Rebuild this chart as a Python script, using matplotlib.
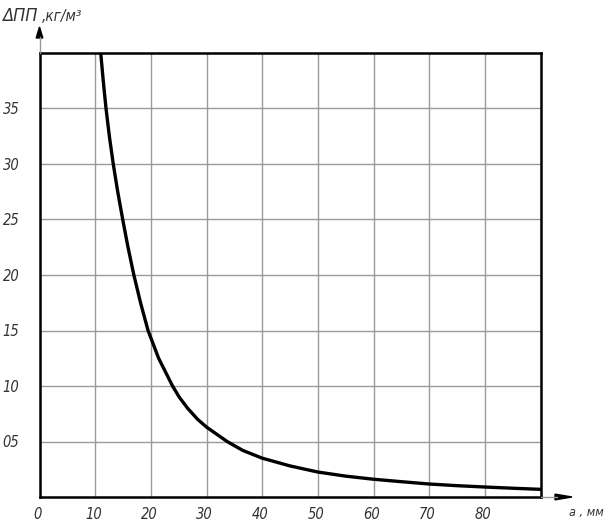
import matplotlib
matplotlib.use("Agg")
import matplotlib.pyplot as plt
from matplotlib.patches import FancyArrow

# Data
a_mm = [11.0, 11.45, 11.95, 12.55, 13.25, 14.05, 14.95, 15.9, 16.95, 18.15,
        19.5, 21.4, 23.9, 25.1, 26.6, 28.4, 30.0, 33.7, 36.5, 40.0, 45.0,
        50.0, 55.0, 60.0, 65.0, 70.0, 75.0, 80.0, 85.0, 90.0]
dpp = [40.0, 37.5, 35.0, 32.5, 30.0, 27.5, 25.0, 22.5, 20.0, 17.5,
       15.0, 12.5, 10.0, 9.0, 8.0, 7.0, 6.3, 5.0, 4.2, 3.5, 2.8,
       2.25, 1.88, 1.6, 1.38, 1.17, 1.02, 0.9, 0.79, 0.69]
x_ticks = [0, 10, 20, 30, 40, 50, 60, 70, 80]
y_ticks = [5, 10, 15, 20, 25, 30, 35]
y_tick_labels = ["05", "10", "15", "20", "25", "30", "35"]

FONT = ['DejaVu Sans']
W, H = 606, 523
fig = plt.figure(figsize=(W / 100, H / 100), dpi=100)
x0, x1, y0, y1 = 39.5, 540.5, 497, 53
ax = fig.add_axes([x0 / W, 1 - y0 / H, (x1 - x0) / W, (y0 - y1) / H])
ax.set_xlim(0, 90)
ax.set_ylim(0, 40)

for xv in range(10, 90, 10):
    ax.axvline(xv, color='#9a9a9a', lw=1.0, zorder=1)
for yv in range(5, 40, 5):
    ax.axhline(yv, color='#9a9a9a', lw=1.0, zorder=1)

ax.plot(a_mm, dpp, color='black', lw=2.4, solid_joinstyle='round',
        solid_capstyle='round', zorder=3, clip_on=True)

for s in ax.spines.values():
    s.set_linewidth(1.8)
    s.set_color('black')
ax.set_xticks([])
ax.set_yticks([])

tk = dict(style='italic', color='#333333', family=FONT, stretch='condensed',
          fontweight='light')
for xv in x_ticks:
    ax.text(xv - 0.3, -1.55, str(xv), ha='center', va='center', fontsize=10.5, **tk)
for yv, lab in zip(y_ticks, y_tick_labels):
    ax.text(-3.6, yv - 0.1, lab, ha='right', va='center', fontsize=10.5,
            clip_on=False, **tk)

def fx(px):
    return px / W

def fy(py):
    return 1 - py / H

fig.add_artist(plt.Line2D([fx(540.5), fx(557)], [fy(497), fy(497)], color='#999999', lw=1.0))
fig.add_artist(FancyArrow(fx(555), fy(497), fx(572) - fx(555), 0, width=0.0005,
                          head_width=0.011, head_length=fx(572) - fx(555),
                          length_includes_head=True, color='black', transform=fig.transFigure))
fig.add_artist(plt.Line2D([fx(39.5), fx(39.5)], [fy(53), fy(37)], color='#999999', lw=1.0))
fig.add_artist(FancyArrow(fx(39.5), fy(38), 0, fy(27) - fy(38), width=0.0005,
                          head_width=0.011, head_length=fy(27) - fy(38),
                          length_includes_head=True, color='black', transform=fig.transFigure))

fig.text(fx(2), fy(21), "ΔПП", ha='left', va='baseline', fontsize=13, **tk)
fig.text(fx(42), fy(21), ",кг/м³", ha='left', va='baseline', fontsize=11, **tk)
fig.text(fx(569), fy(516), "a , мм", ha='left', va='baseline', fontsize=9, **tk)

fig.savefig("out.png", dpi=100)
